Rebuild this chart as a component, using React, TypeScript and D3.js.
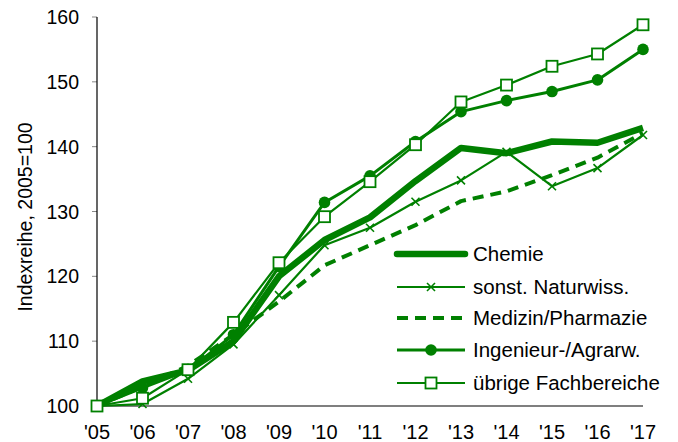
import React from "react";
import * as d3 from "d3";

const years = ["'05", "'06", "'07", "'08", "'09", "'10", "'11", "'12", "'13", "'14", "'15", "'16", "'17"];
const chemie = [100, 103.8, 105.5, 110, 120, 125.6, 129.1, 134.7, 139.8, 139.0, 140.8, 140.6, 142.9];
const naturwiss = [100, 100.3, 104.2, 109.5, 117.1, 124.8, 127.5, 131.5, 134.8, 139.2, 133.9, 136.7, 141.8];
const medizin = [100, 103, 106.2, 111, 116.1, 121.7, 124.8, 127.9, 131.6, 133.1, 135.6, 138.3, 142.1];
const ingenieur = [100, 102.8, 105.5, 111, 121.5, 131.4, 135.5, 140.8, 145.4, 147.1, 148.5, 150.3, 155.0];
const uebrige = [100, 101.2, 105.6, 112.9, 122.1, 129.2, 134.6, 140.3, 146.9, 149.5, 152.4, 154.3, 158.8];
const yTicks = [100, 110, 120, 130, 140, 150, 160];

const seriesNames = ["Chemie", "sonst. Naturwiss.", "Medizin/Pharmazie", "Ingenieur-/Agrarw.", "übrige Fachbereiche"];

const GREEN = "#008000";
const FONT = "'Liberation Sans', Arial, sans-serif";

type Style = { width: number; dash?: string; marker: "none" | "x" | "dot" | "square" };
const styles: Style[] = [
  { width: 6.5, marker: "none" },
  { width: 2.2, marker: "x" },
  { width: 4, dash: "11,7", marker: "none" },
  { width: 3, marker: "dot" },
  { width: 2.2, marker: "square" },
];

function Marker({ kind, x, y }: { kind: string; x: number; y: number }) {
  if (kind === "x") {
    const s = 4;
    return (
      <g stroke={GREEN} strokeWidth={1.6}>
        <line x1={x - s} y1={y - s} x2={x + s} y2={y + s} />
        <line x1={x - s} y1={y + s} x2={x + s} y2={y - s} />
      </g>
    );
  }
  if (kind === "dot") return <circle cx={x} cy={y} r={5.8} fill={GREEN} />;
  if (kind === "square")
    return <rect x={x - 5.5} y={y - 5.5} width={11} height={11} fill="white" stroke={GREEN} strokeWidth={1.8} />;
  return null;
}

export default function App() {
  const W = 678, H = 442;
  const x = d3.scalePoint<string>().domain(years).range([97, 643]);
  const y = d3.scaleLinear().domain([100, 160]).range([406, 17]);
  const data = [chemie, naturwiss, medizin, ingenieur, uebrige];
  const line = d3
    .line<number>()
    .x((_, i) => x(years[i]) as number)
    .y((d) => y(d));

  const legendY = [254, 287, 318, 350, 383];

  return (
    <svg width={W} height={H} style={{ position: "absolute", left: 0, top: 0 }} fontFamily={FONT}>
      <rect width={W} height={H} fill="white" />
      {yTicks.map((t) => (
        <g key={t}>
          <line x1={92} x2={97} y1={y(t)} y2={y(t)} stroke="#888" strokeWidth={1} />
          <text x={79} y={y(t) + 7} textAnchor="end" fontSize={19.5} fill="#000">
            {t}
          </text>
        </g>
      ))}
      {years.map((yr) => (
        <text key={yr} x={x(yr)} y={439} textAnchor="middle" fontSize={20} fill="#000">
          {yr}
        </text>
      ))}
      <text transform="translate(32,217) rotate(-90)" textAnchor="middle" fontSize={19.5} fill="#000">
        Indexreihe, 2005=100
      </text>
      <line x1={97} x2={97} y1={17} y2={406} stroke="#000" strokeWidth={1.2} />
      <line x1={97} x2={643} y1={406} y2={406} stroke="#000" strokeWidth={1.2} />

      {data.map((d, si) => (
        <g key={si}>
          <path
            d={line(d) as string}
            fill="none"
            stroke={GREEN}
            strokeWidth={styles[si].width}
            strokeDasharray={styles[si].dash}
            strokeLinejoin="round"
          />
          {d.map((v, i) => (
            <Marker key={i} kind={styles[si].marker} x={x(years[i]) as number} y={y(v)} />
          ))}
        </g>
      ))}

      {seriesNames.map((n, i) => (
        <g key={n}>
          <line
            x1={397}
            x2={465}
            y1={legendY[i]}
            y2={legendY[i]}
            stroke={GREEN}
            strokeWidth={styles[i].width}
            strokeDasharray={styles[i].dash}
            strokeLinecap={i === 0 ? "round" : "butt"}
          />
          <Marker kind={styles[i].marker} x={431} y={legendY[i]} />
          <text x={473} y={legendY[i] + 7} fontSize={20.5} fill="#000">
            {n}
          </text>
        </g>
      ))}
    </svg>
  );
}
